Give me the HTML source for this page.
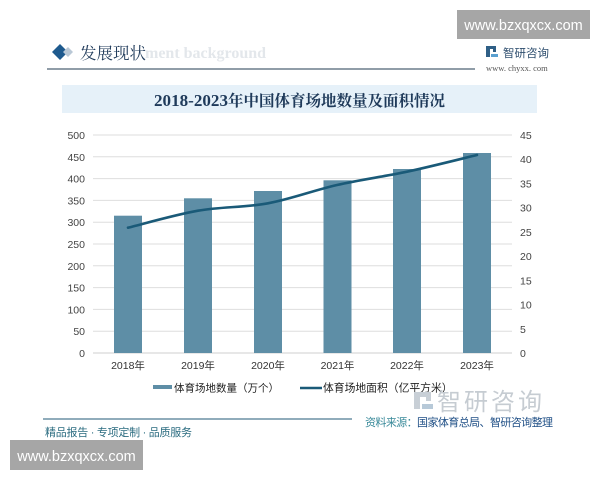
<!DOCTYPE html>
<html>
<head>
<meta charset="utf-8">
<style>
html,body{margin:0;padding:0;background:#fff;}
body{width:600px;height:480px;position:relative;overflow:hidden;font-family:"Liberation Sans","Noto Sans CJK SC",sans-serif;}
.abs{position:absolute;white-space:nowrap;}
</style>
</head>
<body>
<svg class="abs" style="left:0;top:0" width="600" height="480" viewBox="0 0 600 480" xmlns="http://www.w3.org/2000/svg">
  <!-- header -->
  <polygon points="60,44 68,52 60,60 52,52" fill="#1e5a8e"/>
  <polygon points="68,47 73,52 68,57 63,52" fill="#b9c8d6"/>
  <text x="145" y="58" font-family="Liberation Serif, serif" font-size="16" font-weight="bold" fill="#e3e7eb">ment background</text>
  <text x="80" y="59" font-family="Noto Serif CJK SC, serif" font-size="16.5" fill="#1f3a5a">发展现状</text>
  <line x1="47" y1="69" x2="475" y2="69" stroke="#6c7d8c" stroke-width="1.5"/>
  <!-- logo -->
  <g fill="#2f5f86">
    <rect x="486" y="46" width="4" height="11"/>
    <rect x="486" y="46" width="10" height="3"/>
    <rect x="493" y="46" width="3" height="6"/>
    <rect x="491" y="54" width="7" height="3" fill="#5aa0d0"/>
  </g>
  <text x="503" y="57" font-family="Liberation Sans, Noto Sans CJK SC, sans-serif" font-size="11.5" fill="#2f4f6f">智研咨询</text>
  <text x="486" y="71" font-family="Liberation Serif, serif" font-size="8.5" fill="#555">www. chyxx. com</text>
  <!-- title band -->
  <rect x="62" y="85" width="475" height="28" fill="#e6f1f9"/>
  <text x="154" y="106" font-family="Liberation Serif, serif" font-size="17" font-weight="bold" fill="#1f3a5a" textLength="74" lengthAdjust="spacingAndGlyphs">2018-2023</text>
  <text x="228" y="106" font-family="Noto Serif CJK SC, serif" font-size="15.5" font-weight="bold" fill="#1f3a5a" textLength="217" lengthAdjust="spacingAndGlyphs">年中国体育场地数量及面积情况</text>

  <!-- gridlines -->
  <g stroke="#dedede" stroke-width="1">
    <line x1="93" y1="135" x2="512" y2="135"/>
    <line x1="93" y1="156.8" x2="512" y2="156.8"/>
    <line x1="93" y1="178.6" x2="512" y2="178.6"/>
    <line x1="93" y1="200.4" x2="512" y2="200.4"/>
    <line x1="93" y1="222.2" x2="512" y2="222.2"/>
    <line x1="93" y1="244" x2="512" y2="244"/>
    <line x1="93" y1="265.8" x2="512" y2="265.8"/>
    <line x1="93" y1="287.6" x2="512" y2="287.6"/>
    <line x1="93" y1="309.4" x2="512" y2="309.4"/>
    <line x1="93" y1="331.2" x2="512" y2="331.2"/>
  </g>
  <line x1="93" y1="353" x2="512" y2="353" stroke="#cfcfcf" stroke-width="1"/>

  <!-- left labels -->
  <g font-family="Liberation Sans, sans-serif" font-size="10.5" fill="#444" text-anchor="end">
    <text x="85" y="139">500</text>
    <text x="85" y="160.8">450</text>
    <text x="85" y="182.6">400</text>
    <text x="85" y="204.4">350</text>
    <text x="85" y="226.2">300</text>
    <text x="85" y="248">250</text>
    <text x="85" y="269.8">200</text>
    <text x="85" y="291.6">150</text>
    <text x="85" y="313.4">100</text>
    <text x="85" y="335.2">50</text>
    <text x="85" y="357">0</text>
  </g>
  <!-- right labels -->
  <g font-family="Liberation Sans, sans-serif" font-size="10.5" fill="#444" text-anchor="start">
    <text x="520" y="139">45</text>
    <text x="520" y="163.2">40</text>
    <text x="520" y="187.4">35</text>
    <text x="520" y="211.7">30</text>
    <text x="520" y="235.9">25</text>
    <text x="520" y="260.1">20</text>
    <text x="520" y="284.3">15</text>
    <text x="520" y="308.6">10</text>
    <text x="520" y="332.8">5</text>
    <text x="520" y="357">0</text>
  </g>

  <!-- bars -->
  <g fill="#5e8ea6">
    <rect x="114" y="215.7" width="28" height="137.3"/>
    <rect x="184" y="198.3" width="28" height="154.7"/>
    <rect x="254" y="191" width="28" height="162"/>
    <rect x="323.5" y="180.3" width="28" height="172.7"/>
    <rect x="393" y="169" width="28" height="184"/>
    <rect x="463" y="153" width="28" height="200"/>
  </g>

  <!-- line -->
  <path d="M128,227.7 C139.7,224.9 174.7,214.8 198,210.7 C221.3,206.6 244.8,207.6 268,203.3 C291.2,199 313.8,190.3 337,185 C360.2,179.7 383.7,176.7 407,171.7 C430.3,166.7 465.3,157.8 477,155" fill="none" stroke="#1a5a78" stroke-width="2.6" stroke-linecap="round"/>

  <!-- x labels -->
  <g font-family="Liberation Sans, Noto Sans CJK SC, sans-serif" font-size="10.5" fill="#333" text-anchor="middle">
    <text x="128" y="369">2018年</text>
    <text x="198" y="369">2019年</text>
    <text x="268" y="369">2020年</text>
    <text x="337.5" y="369">2021年</text>
    <text x="407" y="369">2022年</text>
    <text x="477" y="369">2023年</text>
  </g>

  <!-- legend -->
  <rect x="153" y="385" width="19" height="4" fill="#5e8ea6"/>
  <text x="174" y="391.5" font-family="Liberation Sans, Noto Sans CJK SC, sans-serif" font-size="10.5" fill="#222">体育场地数量（万个）</text>
  <line x1="300" y1="388" x2="322" y2="388" stroke="#1a5a78" stroke-width="2.4"/>
  <text x="323" y="391.5" font-family="Liberation Sans, Noto Sans CJK SC, sans-serif" font-size="10.8" fill="#222">体育场地面积（亿平方米）</text>

  <!-- big watermark logo -->
  <g fill="#c8cfd6">
    <rect x="414" y="392" width="6" height="17"/>
    <rect x="414" y="392" width="17" height="5"/>
    <rect x="426" y="392" width="5" height="9"/>
    <rect x="422" y="404" width="11" height="5" fill="#b7c9d8"/>
  </g>
  <text x="437" y="410" font-family="Liberation Sans, Noto Sans CJK SC, sans-serif" font-size="24" fill="#c6ccd2" letter-spacing="3">智研咨询</text>

  <!-- footer -->
  <line x1="43" y1="419" x2="352" y2="419" stroke="#4e7a92" stroke-width="1.2"/>
  <text x="365" y="426" font-family="Liberation Sans, Noto Sans CJK SC, sans-serif" font-size="11" fill="#2a7a8e" textLength="188" lengthAdjust="spacing"><tspan fill="#3a8a9a">资料来源：</tspan><tspan fill="#1f4f86">国家体育总局、智研咨询整理</tspan></text>
  <text x="45" y="436" font-family="Liberation Sans, Noto Sans CJK SC, sans-serif" font-size="11" fill="#2b6c80" textLength="147" lengthAdjust="spacing">精品报告 · 专项定制 · 品质服务</text>

  <!-- gray watermark boxes -->
  <rect x="457" y="10" width="133" height="29" fill="#a6a6a6"/>
  <text x="523.5" y="30" text-anchor="middle" font-family="Liberation Sans, sans-serif" font-size="14.5" fill="#ffffff">www.bzxqxcx.com</text>
  <rect x="10" y="440" width="133" height="30" fill="#a6a6a6"/>
  <text x="76.5" y="461" text-anchor="middle" font-family="Liberation Sans, sans-serif" font-size="14.5" fill="#ffffff">www.bzxqxcx.com</text>
</svg>
</body>
</html>
